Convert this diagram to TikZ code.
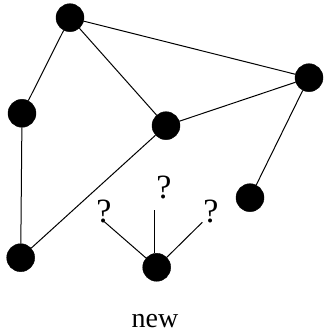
\documentclass[tikz,border=0pt]{standalone}
\usepackage{fontspec}
\setmainfont{Liberation Serif}
\begin{document}
\begin{tikzpicture}[x=1pt,y=1pt,
  vertex/.style={circle,fill=black,draw=black,minimum size=28pt,inner sep=0pt},
  edge/.style={line width=1pt},
  qlbl/.style={font=\fontsize{34}{36}\selectfont,inner sep=0pt,anchor=base},
  lbl/.style={font=\fontsize{28}{30}\selectfont,inner sep=0pt,anchor=base}]
\useasboundingbox (0,0) rectangle (323,331);
\node[vertex] (A) at (70,313.3) {};
\node[vertex] (B) at (309,253.3) {};
\node[vertex] (C) at (22,217.7) {};
\node[vertex] (D) at (166,205.3) {};
\node[vertex] (E) at (250,133.3) {};
\node[vertex] (F) at (20.7,73.3) {};
\node[vertex] (G) at (156.7,63.7) {};
\coordinate (q1) at (104.3,109.3);
\coordinate (q2) at (154,121);
\coordinate (q3) at (202.3,108.7);
\draw[edge] (A) -- (B);
\draw[edge] (A) -- (C);
\draw[edge] (A) -- (D);
\draw[edge] (D) -- (B);
\draw[edge] (C) -- (F);
\draw[edge] (F) -- (D);
\draw[edge] (B) -- (E);
\draw[edge] (G) -- (q1);
\draw[edge] (q2 |- G.north) -- (q2);
\draw[edge] (G) -- (q3);
\node[qlbl] (l1) at (104,108) {?};
\node[qlbl] (l2) at (164,132.7) {?};
\node[qlbl] (l3) at (210.8,108) {?};
\node[lbl] (new) at (155,3) {new};
\end{tikzpicture}
\end{document}
